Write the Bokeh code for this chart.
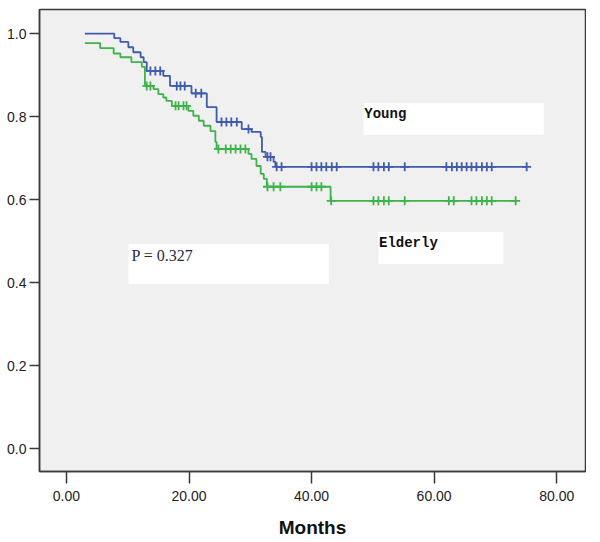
from bokeh.plotting import figure
from bokeh.models import Range1d, FixedTicker, CustomJSTickFormatter
from bokeh.core.properties import value
from bokeh.embed import file_html
from bokeh.resources import INLINE

# ---- data ----
x_ticks = [0, 20, 40, 60, 80]
y_ticks = [0.0, 0.2, 0.4, 0.6, 0.8, 1.0]

young_start_t = 3.0
young_start_s = 1.0
young_event_t = [7.8, 8.8, 10.1, 10.9, 12.1, 12.6, 13.1, 15.8, 16.9, 20.4, 22.9, 24.5,
                 28.6, 30.2, 31.7, 31.9, 32.5, 33.8, 34.1]
young_surv = [0.989, 0.980, 0.967, 0.955, 0.943, 0.931, 0.910, 0.898, 0.874, 0.856, 0.823, 0.787,
              0.770, 0.763, 0.751, 0.715, 0.703, 0.691, 0.679]
young_censor_t = [13.7, 14.5, 15.3, 18.0, 18.6, 19.3, 21.1, 22.0, 25.3, 26.1, 26.9, 27.8,
                  29.7, 32.8, 33.3, 34.3, 35.1, 40.0, 40.8, 41.6, 42.4, 43.3, 44.1,
                  50.1, 50.9, 51.8, 52.6, 55.2, 62.0, 62.9, 63.7, 64.5, 65.3, 66.1,
                  66.9, 67.8, 68.6, 69.4, 75.1]

elderly_start_t = 3.0
elderly_start_s = 0.977
elderly_event_t = [5.5, 7.7, 8.8, 10.6, 12.3, 12.8, 14.2, 15.0, 15.8, 16.3, 17.2, 19.9,
                   20.7, 21.6, 22.4, 23.5, 24.3, 24.5, 29.7, 30.2, 31.0, 31.7, 32.2, 32.7, 43.1]
elderly_surv = [0.965, 0.952, 0.943, 0.931, 0.920, 0.874, 0.866, 0.854, 0.846, 0.838, 0.826, 0.814,
                0.802, 0.790, 0.778, 0.765, 0.739, 0.722, 0.710, 0.698, 0.681, 0.662, 0.650, 0.631, 0.597]
elderly_censor_t = [13.1, 13.7, 17.8, 18.3, 19.1, 19.6, 24.8, 26.0, 26.8, 27.6, 28.4, 29.2,
                    32.8, 33.8, 34.9, 40.0, 40.8, 41.6, 43.2, 50.1, 50.9, 51.8, 52.6, 55.2,
                    62.4, 63.2, 66.1, 66.9, 67.8, 68.6, 69.4, 73.3]

BLUE = "#3f5ba9"
GREEN = "#3db34a"


def step_path(t0, s0, ev_t, ev_s, t_end):
    xs = [t0] + list(ev_t) + [t_end]
    ys = [s0] + list(ev_s) + [ev_s[-1]]
    return xs, ys


def surv_at(t, t0, s0, ev_t, ev_s):
    s = s0
    for et, es in zip(ev_t, ev_s):
        if et <= t:
            s = es
    return s


p = figure(width=586, height=540, output_backend="svg", toolbar_location=None,
           x_range=Range1d(-4.4, 84.7), y_range=Range1d(-0.055, 1.058),
           min_border_left=39, min_border_right=1, min_border_top=9, min_border_bottom=69)

p.background_fill_color = "#f0f0f0"
p.border_fill_color = "white"
p.outline_line_color = "#3a3a3a"
p.outline_line_width = 1.5
p.xgrid.visible = False
p.ygrid.visible = False

for ax in (p.xaxis[0], p.yaxis[0]):
    ax.axis_line_color = "#3a3a3a"
    ax.axis_line_width = 1.5
    ax.major_tick_line_color = "#3a3a3a"
    ax.major_tick_line_width = 1.5
    ax.minor_tick_line_color = None
    ax.major_tick_in = 0
    ax.major_label_text_font = "Liberation Sans"
    ax.major_label_text_font_size = "14px"
    ax.major_label_text_color = "#222222"

p.xaxis.ticker = FixedTicker(ticks=x_ticks)
p.yaxis.ticker = FixedTicker(ticks=y_ticks)
p.xaxis.formatter = CustomJSTickFormatter(code="return tick.toFixed(2);")
p.yaxis.formatter = CustomJSTickFormatter(code="return tick.toFixed(1);")
p.xaxis.major_tick_out = 12
p.yaxis.major_tick_out = 10
p.xaxis.major_label_standoff = 7
p.yaxis.major_label_standoff = 3
p.xaxis.axis_label = "Months"
p.xaxis.axis_label_text_font = "Liberation Sans"
p.xaxis.axis_label_text_font_style = "bold"
p.xaxis.axis_label_text_font_size = "19px"
p.xaxis.axis_label_text_color = "#111111"
p.xaxis.axis_label_standoff = 13

# curves
for t0, s0, ev_t, ev_s, cens, col in [
    (young_start_t, young_start_s, young_event_t, young_surv, young_censor_t, BLUE),
    (elderly_start_t, elderly_start_s, elderly_event_t, elderly_surv, elderly_censor_t, GREEN),
]:
    xs, ys = step_path(t0, s0, ev_t, ev_s, cens[-1])
    p.step(xs, ys, mode="after", line_color=col, line_width=1.8)
    cy = [surv_at(t, t0, s0, ev_t, ev_s) for t in cens]
    p.scatter(cens, cy, marker="cross", size=9, line_color=col, line_width=1.8)

# annotation boxes
p.quad(left=[48.5, 50.9, 10.1], right=[77.9, 71.3, 42.8],
       bottom=[0.756, 0.445, 0.397], top=[0.833, 0.522, 0.493],
       fill_color="white", line_color=None)

p.text(x=[48.6], y=[0.826], text=["Young"], text_font=value("Liberation Mono"),
       text_font_style="bold", text_font_size="14px", text_color="#111111",
       text_baseline="top", text_align="left")
p.text(x=[51.0], y=[0.514], text=["Elderly"], text_font=value("Liberation Mono"),
       text_font_style="bold", text_font_size="14px", text_color="#111111",
       text_baseline="top", text_align="left")
p.text(x=[10.6], y=[0.486], text=["P = 0.327"], text_font=value("Liberation Serif"),
       text_font_size="16px", text_color="#2a2a3a",
       text_baseline="top", text_align="left")

open("out.html", "w").write(file_html(p, INLINE))
